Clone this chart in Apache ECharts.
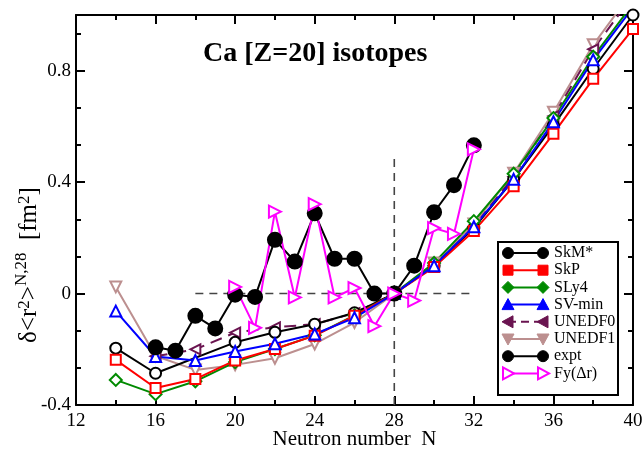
<!DOCTYPE html>
<html>
<head>
<meta charset="utf-8">
<script src="https://cdn.jsdelivr.net/npm/echarts@6/dist/echarts.min.js"></script>
<style>
  html, body { margin: 0; padding: 0; background: #fff; }
  #chart { width: 642px; height: 449px; }
</style>
</head>
<body>
<div id="chart"></div>
<script>
// Neutron numbers of the even-N theory calculations
const nTheory = [14, 16, 18, 20, 22, 24, 26, 28, 30, 32, 34, 36, 38, 40];
const nUnedf0 = [16, 18, 20, 22, 24, 26, 28, 30, 32, 34, 36, 38, 40];
// delta <r^2> relative to N = 28, in fm^2
const skmStar = [-0.196, -0.286, null, -0.175, -0.139, -0.110, -0.069, 0, 0.100, 0.235, 0.410, 0.604, 0.807, 1.000];
const skp     = [-0.238, -0.339, -0.307, -0.240, -0.199, -0.151, -0.080, 0, 0.095, 0.225, 0.385, 0.574, 0.771, 0.950];
const sly4    = [-0.310, -0.361, -0.315, -0.246, -0.199, -0.150, -0.078, 0, 0.110, 0.260, 0.430, 0.630, 0.850, 1.040];
const svMin   = [-0.063, -0.226, -0.240, -0.208, -0.180, -0.145, -0.087, 0, 0.100, 0.240, 0.410, 0.617, 0.839, 1.027];
const unedf0  = [-0.225, -0.200, -0.140, -0.121, -0.110, -0.070, 0, 0.100, 0.240, 0.420, 0.637, 0.877, 1.070];
const unedf1  = [0.024, -0.224, -0.274, -0.256, -0.232, -0.181, -0.104, 0, 0.110, 0.250, 0.432, 0.651, 0.893, 1.087];

// Experimental values, every N from 16 to 32
const nExpt = [16, 17, 18, 19, 20, 21, 22, 23, 24, 25, 26, 27, 28, 29, 30, 31, 32];
const expt  = [-0.193, -0.205, -0.080, -0.125, -0.004, -0.012, 0.193, 0.115, 0.288, 0.125, 0.125, 0, 0, 0.100, 0.292, 0.389, 0.532];

// Fayans functional with the Delta r term
const nFy = [20, 21, 22, 23, 24, 25, 26, 27, 28, 29, 30, 31, 32];
const fy  = [0.024, -0.123, 0.294, -0.014, 0.321, -0.014, 0.020, -0.117, 0, -0.025, 0.235, 0.214, 0.518];

// Guide lines through the N = 28 reference point
const guideH = [[18, 0], [32, 0]];
const guideV = [[28, -0.4], [28, 0.5]];

const serif = "'Liberation Serif', 'DejaVu Serif', serif";

function pairs(xs, ys) { return xs.map((x, i) => [x, ys[i]]); }

function lineSeries(name, data, color, symbol, rotate, size, extra) {
  return Object.assign({
    name: name,
    type: 'line',
    data: data,
    connectNulls: true,
    symbol: symbol,
    symbolRotate: rotate,
    symbolSize: size,
    showAllSymbol: true,
    clip: true,
    animation: false,
    lineStyle: { color: color, width: 2 },
    itemStyle: { color: color, borderColor: color, borderWidth: 2 },
    emphasis: { disabled: true }
  }, extra || {});
}

// Legend rows: name, color, marker shape, dashed line, open marker
const legendRows = [
  ['SkM*', '#000000', 'circle', false, false],
  ['SkP', '#ff0000', 'square', false, false],
  ['SLy4', '#008a00', 'diamond', false, false],
  ['SV-min', '#0000ff', 'up', false, false],
  ['UNEDF0', '#6a1450', 'left', true, false],
  ['UNEDF1', '#bc8f8f', 'down', false, false],
  ['expt', '#000000', 'circle', false, false],
  ['Fy(\u0394r)', '#ff00ff', 'right', false, true]
];

function marker(kind, cx, cy, color, open) {
  const style = open
    ? { fill: '#fff', stroke: color, lineWidth: 2 }
    : { fill: color, stroke: color, lineWidth: 1 };
  const r = 6;
  let el;
  if (kind === 'circle') el = { type: 'circle', shape: { cx: cx, cy: cy, r: 5.5 } };
  else if (kind === 'square') el = { type: 'rect', shape: { x: cx - 5, y: cy - 5, width: 10, height: 10 } };
  else {
    let pts;
    if (kind === 'diamond') pts = [[cx, cy - r], [cx + r, cy], [cx, cy + r], [cx - r, cy]];
    else if (kind === 'up') pts = [[cx, cy - r], [cx + r, cy + 5], [cx - r, cy + 5]];
    else if (kind === 'down') pts = [[cx - r, cy - 5], [cx + r, cy - 5], [cx, cy + r]];
    else if (kind === 'left') pts = [[cx - r, cy], [cx + 5, cy - r], [cx + 5, cy + r]];
    else pts = [[cx + r, cy], [cx - 5, cy - r], [cx - 5, cy + r]];
    el = { type: 'polygon', shape: { points: pts } };
  }
  el.style = style;
  el.z = 102;
  return el;
}

function buildLegend() {
  const els = [{
    type: 'rect', shape: { x: 498, y: 242, width: 120, height: 153 },
    style: { fill: '#fff', stroke: '#000', lineWidth: 2 }, z: 100
  }];
  legendRows.forEach((row, i) => {
    const y = 253 + i * 17.2;
    const x1 = 508, x2 = 543;
    els.push({
      type: 'line', shape: { x1: x1, y1: y, x2: x2, y2: y },
      style: { stroke: row[1], lineWidth: 2, lineDash: row[3] ? [8, 5] : null }, z: 101
    });
    els.push(marker(row[2], x1, y, row[1], row[4]));
    els.push(marker(row[2], x2, y, row[1], row[4]));
    els.push({
      type: 'text', x: 554, y: y, z: 102,
      style: { text: row[0], font: '16px ' + serif, fill: '#000', verticalAlign: 'middle', align: 'left' }
    });
  });
  return els;
}

// Vertical axis title with superscripts, laid out piece by piece along one baseline
// [text, font size, raise above baseline]
const yTitleParts = [
  ['\u03b4<r', 25, 0],
  ['2', 17, 9],
  ['>', 25, 0],
  ['N,28', 17, 12],
  ['  [fm', 25, 0],
  ['2', 17, 9],
  [']', 25, 0]
];

function buildYTitle(cx, cy) {
  const ctx = document.createElement('canvas').getContext('2d');
  const widths = yTitleParts.map(p => { ctx.font = p[1] + 'px ' + serif; return ctx.measureText(p[0]).width; });
  const total = widths.reduce((a, b) => a + b, 0);
  let x = -total / 2;
  const children = yTitleParts.map((p, i) => {
    const el = {
      type: 'text', x: x, y: -p[2],
      style: {
        text: p[0], font: p[1] + 'px ' + serif, fill: '#000',
        align: 'left', verticalAlign: 'bottom'
      }
    };
    x += widths[i];
    return el;
  });
  return {
    type: 'group', x: cx, y: cy, rotation: Math.PI / 2, z: 100,
    children: children
  };
}

const axisLineStyle = { color: '#000', width: 2 };

function xAxisCfg(pos, showLabels) {
  return {
    type: 'value', position: pos, min: 12, max: 40, interval: 4,
    axisLine: { show: true, onZero: false, lineStyle: axisLineStyle },
    axisTick: { show: true, inside: true, length: 9, lineStyle: { color: '#000', width: 2 } },
    minorTick: { show: true, splitNumber: 2, length: 5, lineStyle: { color: '#000', width: 2 } },
    splitLine: { show: false },
    axisLabel: { show: showLabels, margin: 7, color: '#000', fontFamily: serif, fontSize: 19 },
    name: showLabels ? 'Neutron number  N' : '',
    nameLocation: 'middle', nameGap: 24, nameMoveOverlap: false,
    nameTextStyle: { color: '#000', fontFamily: serif, fontSize: 21 }
  };
}

function yAxisCfg(pos, showLabels) {
  return {
    type: 'value', position: pos, min: -0.4, max: 1.0, interval: 0.4,
    axisLine: { show: true, onZero: false, lineStyle: axisLineStyle },
    axisTick: { show: true, inside: true, length: 9, lineStyle: { color: '#000', width: 2 } },
    minorTick: { show: true, splitNumber: 3, length: 5, lineStyle: { color: '#000', width: 2 } },
    splitLine: { show: false },
    axisLabel: {
      show: showLabels, margin: 5, color: '#000', fontFamily: serif, fontSize: 19,
      showMaxLabel: false,
      formatter: v => (Math.abs(v) < 1e-9 ? '0' : (Math.abs(v - 1) < 1e-9 ? '' : v.toFixed(1)))
    }
  };
}

const chart = echarts.init(document.getElementById('chart'), null, { renderer: 'canvas' });

chart.setOption({
  animation: false,
  backgroundColor: '#fff',
  grid: { left: 76, right: 9, top: 15, bottom: 44, containLabel: false, outerBoundsMode: 'none' },
  xAxis: [xAxisCfg('bottom', true), xAxisCfg('top', false)],
  yAxis: [yAxisCfg('left', true), yAxisCfg('right', false)],
  title: {
    text: 'Ca [Z=20] isotopes', left: 203, top: 40, padding: 0,
    textStyle: { fontFamily: serif, fontSize: 28, fontWeight: 'bold', color: '#000' }
  },
  series: [
    lineSeries('guideH', guideH, '#444', 'none', 0, 0,
      { lineStyle: { color: '#444', width: 1.6, type: [8, 6] }, silent: true }),
    lineSeries('guideV', guideV, '#444', 'none', 0, 0,
      { lineStyle: { color: '#444', width: 1.6, type: [8, 6] }, silent: true }),
    lineSeries('UNEDF1', pairs(nTheory, unedf1), '#bc8f8f', 'emptyTriangle', 180, 11),
    lineSeries('UNEDF0', pairs(nUnedf0, unedf0), '#6a1450', 'emptyTriangle', 90, 10,
      { lineStyle: { color: '#6a1450', width: 2, type: [12, 7] } }),
    lineSeries('SkM*', pairs(nTheory, skmStar), '#000000', 'emptyCircle', 0, 11),
    lineSeries('SLy4', pairs(nTheory, sly4), '#008a00', 'emptyDiamond', 0, 12),
    lineSeries('SkP', pairs(nTheory, skp), '#ff0000', 'emptyRect', 0, 10),
    lineSeries('SV-min', pairs(nTheory, svMin), '#0000ff', 'emptyTriangle', 0, 11),
    lineSeries('expt', pairs(nExpt, expt), '#000000', 'circle', 0, 14),
    lineSeries('Fy(\u0394r)', pairs(nFy, fy), '#ff00ff', 'emptyTriangle', -90, 12)
  ],
  graphic: buildLegend().concat([buildYTitle(42, 265)])
});
</script>
</body>
</html>
